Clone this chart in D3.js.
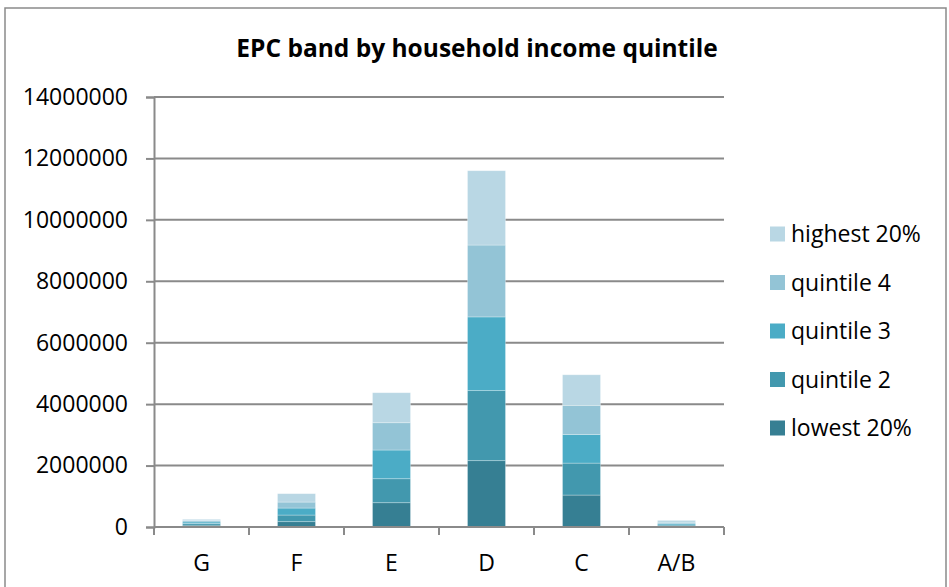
<!DOCTYPE html>
<html>
<head>
<meta charset="utf-8">
<script src="https://cdn.jsdelivr.net/npm/d3@7"></script>
<style>
  body { margin: 0; background: #fff; }
  svg { display: block; font-family: "Open Sans", sans-serif; }
</style>
</head>
<body>
<svg id="chart" width="949" height="587"></svg>
<script>
// EPC bands along the x axis
const bands = ["G", "F", "E", "D", "C", "A/B"];
// income quintiles, bottom of the stack first
const quintiles = ["lowest 20%", "quintile 2", "quintile 3", "quintile 4", "highest 20%"];
const lowest  = [60000, 174000, 791000, 2160000, 1040000, 30000];
const q2      = [55000, 215000, 781000, 2280000, 1040000, 35000];
const q3      = [50000, 228000, 934000, 2400000, 934000, 40000];
const q4      = [45000, 195000, 889000, 2340000, 944000, 50000];
const highest = [40000, 273000, 977000, 2420000, 998000, 60000];
const yTicks = [0, 2000000, 4000000, 6000000, 8000000, 10000000, 12000000, 14000000];
const colors = ["#367f93", "#4298ae", "#4bacc6", "#93c4d6", "#b9d7e4"];

const series = [lowest, q2, q3, q4, highest];
const rows = bands.map((b, i) => {
    const r = { band: b };
    quintiles.forEach((q, j) => { r[q] = series[j][i]; });
    return r;
});

const svg = d3.select('#chart');
const margin = { left: 154, right: 225, top: 97, bottom: 60 };
const width = 949, height = 587;
const fontSize = '23px';

// outer chart frame
svg.append('rect')
    .attr('x', 5).attr('y', 8)
    .attr('width', 941).attr('height', 600)
    .attr('fill', 'none')
    .attr('stroke', '#8a8a8a')
    .attr('stroke-width', 1.5);

svg.append('text')
    .attr('x', 477).attr('y', 57)
    .attr('text-anchor', 'middle')
    .style('font-weight', 'bold')
    .style('font-size', '24.5px')
    .text('EPC band by household income quintile');

const x = d3.scaleBand()
    .domain(bands)
    .range([margin.left, width - margin.right])
    .paddingInner(0.6)
    .paddingOuter(0.3);

const y = d3.scaleLinear()
    .domain([0, 14000000])
    .range([height - margin.bottom, margin.top]);

// gridlines
svg.append('g')
    .selectAll('line')
    .data(yTicks.slice(1))
    .enter().append('line')
    .attr('x1', margin.left).attr('x2', width - margin.right)
    .attr('y1', d => y(d)).attr('y2', d => y(d))
    .attr('stroke', '#8a8a8a')
    .attr('stroke-width', 2);

const stack = d3.stack().keys(quintiles);
const stacked = stack(rows);

svg.append('g')
    .selectAll('g')
    .data(stacked)
    .enter().append('g')
    .attr('fill', (d, i) => colors[i])
    .selectAll('rect')
    .data(d => d)
    .enter().append('rect')
    .attr('x', d => x(d.data.band))
    .attr('width', x.bandwidth())
    .attr('y', d => y(d[1]))
    .attr('height', d => y(d[0]) - y(d[1]))
    .attr('stroke', '#ffffff')
    .attr('stroke-opacity', 0.35)
    .attr('stroke-width', 0.8);

// y axis
const yAxis = d3.axisLeft(y)
    .tickValues(yTicks)
    .tickFormat(d3.format('d'))
    .tickSize(8)
    .tickPadding(18);
const gy = svg.append('g')
    .attr('transform', `translate(${margin.left},0)`)
    .call(yAxis);
gy.select('.domain').attr('stroke', '#8a8a8a').attr('stroke-width', 2);
gy.selectAll('.tick line').attr('stroke', '#8a8a8a').attr('stroke-width', 2);
gy.selectAll('.tick text')
    .style('font-size', fontSize)
    .style('font-family', '"Open Sans", sans-serif')
    .attr('fill', '#000');

// x axis with ticks at band boundaries
const step = x.step();
const boundaries = d3.range(bands.length + 1).map(i => margin.left + i * step);
const gx = svg.append('g');
gx.append('line')
    .attr('x1', margin.left).attr('x2', width - margin.right)
    .attr('y1', y(0)).attr('y2', y(0))
    .attr('stroke', '#8a8a8a').attr('stroke-width', 2);
gx.selectAll('.xt')
    .data(boundaries)
    .enter().append('line')
    .attr('class', 'xt')
    .attr('x1', d => d).attr('x2', d => d)
    .attr('y1', y(0)).attr('y2', y(0) + 8)
    .attr('stroke', '#8a8a8a').attr('stroke-width', 2);
gx.selectAll('text')
    .data(bands)
    .enter().append('text')
    .attr('x', d => x(d) + x.bandwidth() / 2)
    .attr('y', y(0) + 44)
    .attr('text-anchor', 'middle')
    .style('font-size', fontSize)
    .text(d => d);

// legend, highest on top
const legend = svg.append('g')
    .selectAll('g')
    .data(quintiles.slice().reverse())
    .enter().append('g')
    .attr('transform', (d, i) => `translate(770,${234 + i * 48.5})`);
legend.append('rect')
    .attr('x', 0).attr('y', -7.5)
    .attr('width', 15).attr('height', 15)
    .attr('fill', d => colors[quintiles.indexOf(d)]);
legend.append('text')
    .attr('x', 21).attr('y', 0)
    .attr('dy', '0.35em')
    .style('font-size', fontSize)
    .text(d => d);
</script>
</body>
</html>
